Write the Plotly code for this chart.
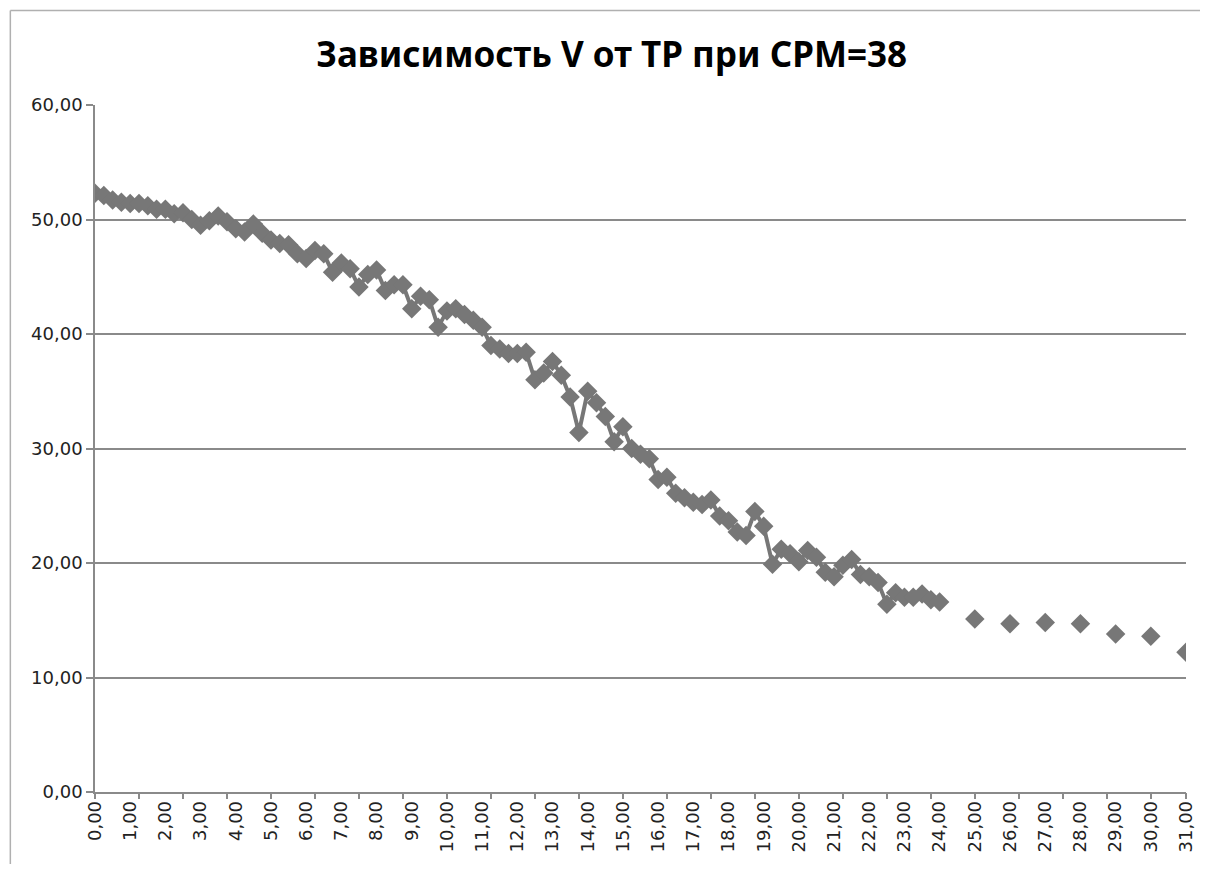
import plotly.graph_objects as go

# TP values (step 0.25) with the connected V series
tp_main = [
    0.00, 0.25, 0.50, 0.75, 1.00, 1.25, 1.50, 1.75, 2.00, 2.25, 2.50, 2.75,
    3.00, 3.25, 3.50, 3.75, 4.00, 4.25, 4.50, 4.75, 5.00, 5.25, 5.50, 5.75,
    6.00, 6.25, 6.50, 6.75, 7.00, 7.25, 7.50, 7.75, 8.00, 8.25, 8.50, 8.75,
    9.00, 9.25, 9.50, 9.75, 10.00, 10.25, 10.50, 10.75, 11.00, 11.25, 11.50, 11.75,
    12.00, 12.25, 12.50, 12.75, 13.00, 13.25, 13.50, 13.75, 14.00, 14.25, 14.50, 14.75,
    15.00, 15.25, 15.50, 15.75, 16.00, 16.25, 16.50, 16.75, 17.00, 17.25, 17.50, 17.75,
    18.00, 18.25, 18.50, 18.75, 19.00, 19.25, 19.50, 19.75, 20.00, 20.25, 20.50, 20.75,
    21.00, 21.25, 21.50, 21.75, 22.00, 22.25, 22.50, 22.75, 23.00, 23.25, 23.50, 23.75,
    24.00,
]
v_main = [
    52.3, 52.1, 51.7, 51.5, 51.4, 51.4, 51.2, 50.9, 50.9, 50.5, 50.6, 50.0,
    49.5, 49.9, 50.3, 49.8, 49.2, 48.9, 49.6, 48.8, 48.2, 47.9, 47.8, 47.0,
    46.6, 47.3, 47.0, 45.4, 46.2, 45.7, 44.1, 45.2, 45.6, 43.8, 44.3, 44.3,
    42.2, 43.3, 43.0, 40.6, 42.0, 42.2, 41.7, 41.2, 40.6, 39.0, 38.7, 38.3,
    38.3, 38.4, 36.0, 36.6, 37.6, 36.4, 34.5, 31.4, 35.0, 34.0, 32.8, 30.6,
    31.9, 30.0, 29.5, 29.1, 27.3, 27.5, 26.1, 25.7, 25.3, 25.1, 25.5, 24.1,
    23.7, 22.7, 22.4, 24.5, 23.2, 19.9, 21.2, 20.8, 20.1, 21.1, 20.5, 19.2,
    18.8, 19.8, 20.3, 19.0, 18.8, 18.3, 16.4, 17.4, 17.0, 17.0, 17.3, 16.8,
    16.6,
]

# isolated points after the gap
tp_tail = [25.00, 26.00, 27.00, 28.00, 29.00, 30.00, 31.00]
v_tail = [15.1, 14.7, 14.8, 14.7, 13.8, 13.6, 12.2]

TITLE = "Зависимость V от TP при CPM=38"
GREY = "#777777"
AXIS = "#8a8a8a"
BORDER = "#b0b0b0"
TICK_FONT = dict(family="DejaVu Sans", size=18, color="#222222")

fig = go.Figure()
fig.add_trace(go.Scatter(
    x=tp_main, y=v_main, mode="lines+markers",
    line=dict(color=GREY, width=4),
    marker=dict(symbol="diamond", size=15, color=GREY),
    showlegend=False,
))
fig.add_trace(go.Scatter(
    x=tp_tail, y=v_tail, mode="markers",
    marker=dict(symbol="diamond", size=15, color=GREY),
    showlegend=False,
))
# dummy trace so the tick-mark axis gets drawn
fig.add_trace(go.Scatter(x=[None], y=[None], xaxis="x2", showlegend=False,
                         hoverinfo="skip"))

minor_ticks = [i * 1.25 for i in range(25)] + [31]

# page body adds an 8px margin, so the figure is sized/margined to compensate
fig.update_layout(
    width=1200, height=856,
    separators=", ",
    paper_bgcolor="white", plot_bgcolor="white",
    margin=dict(l=87, r=17, t=97, b=66),
    title=dict(text=TITLE, x=0.503, xanchor="center", y=0.945, yanchor="middle",
               font=dict(family="Noto Sans", size=35, color="#000000", weight="bold")),
    xaxis=dict(
        range=[0, 31], tick0=0, dtick=1, tickformat=".2f",
        tickangle=-90, ticks="", showgrid=False, zeroline=False,
        showline=True, linecolor=AXIS, linewidth=1.5,
        tickfont=TICK_FONT,
    ),
    xaxis2=dict(
        range=[0, 31], overlaying="x", anchor="y", side="bottom",
        tickvals=minor_ticks, ticks="outside", ticklen=6, tickcolor=AXIS,
        tickwidth=1.5, showticklabels=False, showgrid=False, zeroline=False,
        showline=False,
    ),
    yaxis=dict(
        range=[0, 60], dtick=10, tickformat=".2f",
        ticks="outside", ticklen=7, tickcolor=AXIS, tickwidth=1.5,
        showgrid=True, gridcolor=AXIS, gridwidth=1.5,
        showline=True, linecolor=AXIS, linewidth=1.5, zeroline=False,
        tickfont=TICK_FONT,
    ),
    # chart-area border (only top and left edges fall inside the picture)
    shapes=[
        dict(type="line", xref="paper", yref="paper",
             x0=-0.0776, x1=-0.0776, y0=-0.6, y1=1.1377,
             line=dict(color=BORDER, width=1.5), layer="below"),
        dict(type="line", xref="paper", yref="paper",
             x0=-0.0776, x1=1.6, y0=1.1377, y1=1.1377,
             line=dict(color=BORDER, width=1.5), layer="below"),
    ],
)

fig.write_html("out.html")
